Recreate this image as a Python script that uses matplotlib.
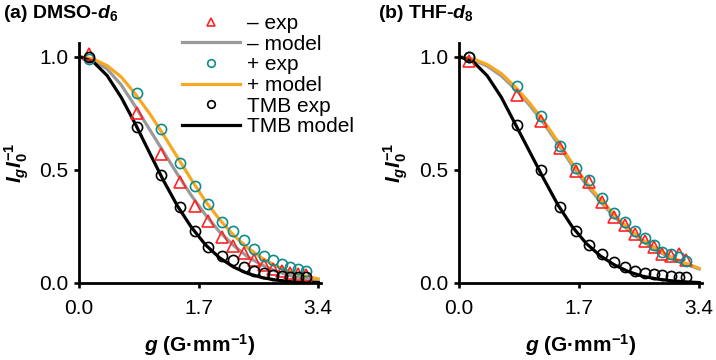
import matplotlib
matplotlib.use("Agg")
import matplotlib.pyplot as plt

plt.rcParams["font.family"] = ["Liberation Sans", "DejaVu Sans"]
plt.rcParams["mathtext.fontset"] = "custom"
plt.rcParams["mathtext.it"] = "Liberation Sans:bold:italic"
plt.rcParams["mathtext.rm"] = "Liberation Sans:bold"
plt.rcParams["mathtext.bf"] = "Liberation Sans:bold"

# gradient strengths (G/mm), shared by both solvents
g_exp = [0.14, 0.82, 1.16, 1.43, 1.65, 1.84, 2.03, 2.19, 2.35, 2.49,
         2.63, 2.76, 2.88, 3.00, 3.11, 3.22]
g_model = [0.0, 0.2, 0.4, 0.6, 0.8, 1.0, 1.2, 1.4, 1.6, 1.8,
           2.0, 2.2, 2.4, 2.6, 2.8, 3.0, 3.2, 3.4]

# (a) DMSO-d6
a_minus_exp = [1.01, 0.75, 0.57, 0.445, 0.34, 0.274, 0.203, 0.163, 0.133, 0.10,
               0.08, 0.062, 0.052, 0.046, 0.04, 0.035]
a_plus_exp = [0.99, 0.84, 0.68, 0.53, 0.43, 0.35, 0.27, 0.23, 0.19, 0.15,
              0.12, 0.10, 0.083, 0.069, 0.06, 0.055]
a_tmb_exp = [1.0, 0.69, 0.475, 0.335, 0.23, 0.16, 0.12, 0.10, 0.07, 0.055,
             0.043, 0.035, 0.03, 0.028, 0.026, 0.025]
a_minus_model = [1.0, 0.985, 0.945, 0.875, 0.78, 0.68, 0.58, 0.48, 0.385, 0.30,
                 0.225, 0.165, 0.115, 0.08, 0.052, 0.033, 0.02, 0.01]
a_plus_model = [1.0, 0.99, 0.96, 0.91, 0.835, 0.75, 0.655, 0.555, 0.455, 0.36,
                0.28, 0.21, 0.155, 0.11, 0.075, 0.05, 0.032, 0.018]
a_tmb_model = [1.0, 0.978, 0.916, 0.82, 0.703, 0.577, 0.453, 0.34, 0.245, 0.168,
               0.111, 0.07, 0.042, 0.024, 0.013, 0.007, 0.004, 0.002]

# (b) THF-d8
b_minus_exp = [0.98, 0.83, 0.715, 0.595, 0.496, 0.444, 0.357, 0.29, 0.254, 0.218,
               0.186, 0.157, 0.13, 0.118, 0.127, 0.10]
b_plus_exp = [1.0, 0.868, 0.737, 0.605, 0.51, 0.457, 0.376, 0.31, 0.269, 0.228,
              0.20, 0.167, 0.137, 0.126, 0.113, 0.098]
b_tmb_exp = [1.0, 0.70, 0.50, 0.335, 0.228, 0.17, 0.13, 0.093, 0.069, 0.054,
             0.045, 0.039, 0.035, 0.031, 0.028, 0.028]
b_minus_model = [1.0, 0.985, 0.958, 0.915, 0.855, 0.785, 0.705, 0.615, 0.52, 0.435,
                 0.36, 0.292, 0.233, 0.184, 0.144, 0.11, 0.084, 0.062]
b_plus_model = [1.0, 0.99, 0.965, 0.925, 0.865, 0.795, 0.715, 0.625, 0.53, 0.445,
                0.37, 0.30, 0.24, 0.19, 0.15, 0.115, 0.088, 0.065]
b_tmb_model = [1.0, 0.978, 0.915, 0.82, 0.70, 0.58, 0.46, 0.345, 0.25, 0.175,
               0.12, 0.08, 0.05, 0.03, 0.018, 0.01, 0.005, 0.002]

RED = "#ff2424"
TEAL = "#0e8c8c"
ORANGE = "#f7a823"
GRAY = "#9a9a9a"
FS = 15

fig = plt.figure(figsize=(7.16, 3.6), dpi=100)
ax_a = fig.add_axes([79 / 716, 77 / 360, 242 / 716, 240 / 360])
ax_b = fig.add_axes([459 / 716, 77 / 360, 243 / 716, 240 / 360])

panels = [
    (ax_a, a_minus_exp, a_plus_exp, a_tmb_exp, a_minus_model, a_plus_model, a_tmb_model),
    (ax_b, b_minus_exp, b_plus_exp, b_tmb_exp, b_minus_model, b_plus_model, b_tmb_model),
]

for ax, m_exp, p_exp, t_exp, m_mod, p_mod, t_mod in panels:
    ms = 7.3
    ax.plot(g_model, m_mod, color=GRAY, lw=2.3, label="– model", zorder=2)
    ax.plot(g_model, p_mod, color=ORANGE, lw=2.3, label="+ model", zorder=2)
    ax.plot(g_model, t_mod, color="black", lw=2.3, label="TMB model", zorder=2)
    ax.plot(g_exp, m_exp, ls="none", marker="^", ms=8.2, mfc="none", mec=RED,
            mew=1.2, label="– exp", zorder=3, clip_on=False)
    ax.plot(g_exp, p_exp, ls="none", marker="o", ms=ms, mfc="none", mec=TEAL,
            mew=1.2, label="+ exp", zorder=3, clip_on=False)
    ax.plot(g_exp, t_exp, ls="none", marker="o", ms=ms, mfc="none", mec="black",
            mew=1.2, label="TMB exp", zorder=3, clip_on=False)

    ax.set_xlim(0, 3.44)
    ax.set_ylim(0, 1.06)
    ax.set_xticks([0.0, 1.7, 3.4])
    ax.set_xticklabels(["0.0", "1.7", "3.4"])
    ax.set_yticks([0.0, 0.5, 1.0])
    ax.set_yticklabels(["0.0", "0.5", "1.0"])
    for side in ["top", "right"]:
        ax.spines[side].set_visible(False)
    for side in ["left", "bottom"]:
        ax.spines[side].set_linewidth(2.0)
    ax.tick_params(axis="both", direction="out", length=3.8, width=1.9, labelsize=FS)
    ax.tick_params(axis="x", pad=8)
    ax.tick_params(axis="y", pad=4)

    ax.set_xlabel("$g$ (G·mm$^{-1}$)", fontsize=FS, fontweight="bold")
    ax.xaxis.set_label_coords(0.5, -0.205)
    ax.set_ylabel("$I_gI_0^{-1}$", fontsize=FS, fontweight="bold")
    ax.yaxis.set_label_coords(-0.20, 0.5)

fig.text(0.004, 0.962, "(a) DMSO-$d_{6}$", fontsize=14, fontweight="bold",
         ha="left", va="center")
fig.text(0.528, 0.962, "(b) THF-$d_{8}$", fontsize=14, fontweight="bold",
         ha="left", va="center")

handles, labels = ax_a.get_legend_handles_labels()
order = ["– exp", "– model", "+ exp", "+ model", "TMB exp", "TMB model"]
hmap = dict(zip(labels, handles))
ax_a.legend([hmap[k] for k in order], order, loc="upper left",
            bbox_to_anchor=(182 / 716, 1 - 14 / 360), bbox_transform=fig.transFigure,
            frameon=False, fontsize=FS, handlelength=2.8, handletextpad=0.3,
            labelspacing=0.08, borderpad=0, borderaxespad=0, markerscale=0.75)

fig.savefig("out.png", dpi=100)
